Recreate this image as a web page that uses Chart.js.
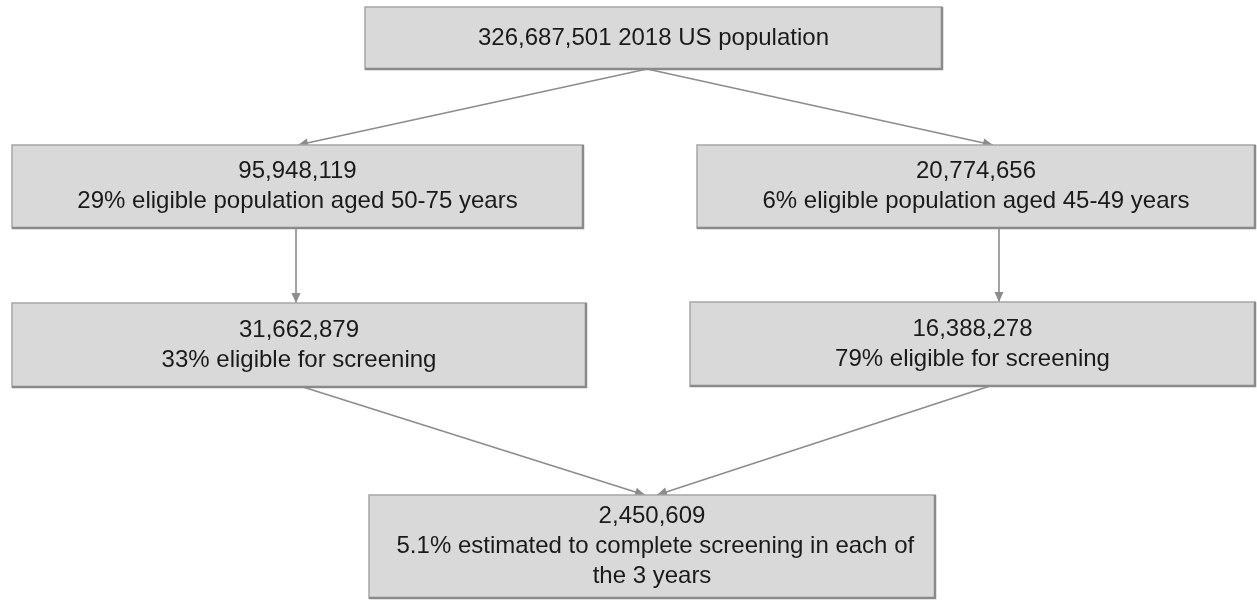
<!DOCTYPE html>
<html>
<head>
<meta charset="utf-8">
<script src="https://cdn.jsdelivr.net/npm/chart.js@4.4.1/dist/chart.umd.min.js"></script>
<style>
  html, body { margin: 0; padding: 0; background: #fff; }
  #wrap { width: 1257px; height: 603px; }
</style>
</head>
<body>
<div id="wrap"><canvas id="flow-chart" width="1257" height="603"></canvas></div>
<script>
// flow values
var counts = ['326,687,501', '95,948,119', '20,774,656', '31,662,879', '16,388,278', '2,450,609'];
var captions = [
    ['2018 US population'],
    ['29% eligible population aged 50-75 years'],
    ['6% eligible population aged 45-49 years'],
    ['33% eligible for screening'],
    ['79% eligible for screening'],
    [' 5.1% estimated to complete screening in each of', 'the 3 years']
];
var links = [[0, 1], [0, 2], [1, 3], [2, 4], [3, 5], [4, 5]];

// layout on a 1257 x 603 grid (y grows downward)
var boxLayout = [
    {x0: 365, x1: 942, y0: 7, y1: 69},
    {x0: 12, x1: 583, y0: 145, y1: 228},
    {x0: 697, x1: 1255, y0: 145, y1: 228},
    {x0: 12, x1: 586, y0: 303, y1: 387},
    {x0: 690, x1: 1255, y0: 302, y1: 386},
    {x0: 369, x1: 935, y0: 495, y1: 598}
];
var linkAnchors = [[647, 298], [647, 993], [296, 296], [999, 999], [303, 645], [990, 657]];

function boxLines(i) {
    if (i === 0) return [counts[0] + ' ' + captions[0][0]];
    return [counts[i]].concat(captions[i]);
}

var lineColor = '#8c8c8c';
var datasets = [];
for (var i = 0; i < links.length; i++) {
    var a = boxLayout[links[i][0]], b = boxLayout[links[i][1]];
    datasets.push({
        data: [{x: linkAnchors[i][0], y: a.y1}, {x: linkAnchors[i][1], y: b.y0}],
        showLine: true,
        borderColor: lineColor,
        borderWidth: 1.6,
        pointRadius: 0,
        fill: false
    });
}

var flowPlugin = {
    id: 'flowBoxes',
    afterDatasetsDraw: function(chart) {
        var ctx = chart.ctx, sx = chart.scales.x, sy = chart.scales.y;
        ctx.save();
        // arrow heads
        chart.data.datasets.forEach(function(ds) {
            var p0 = ds.data[0], p1 = ds.data[1];
            var x0 = sx.getPixelForValue(p0.x), y0 = sy.getPixelForValue(p0.y);
            var x1 = sx.getPixelForValue(p1.x), y1 = sy.getPixelForValue(p1.y);
            var ang = Math.atan2(y1 - y0, x1 - x0), len = 10, half = 4.5;
            ctx.fillStyle = lineColor;
            ctx.beginPath();
            ctx.moveTo(x1, y1);
            ctx.lineTo(x1 - len * Math.cos(ang) + half * Math.sin(ang), y1 - len * Math.sin(ang) - half * Math.cos(ang));
            ctx.lineTo(x1 - len * Math.cos(ang) - half * Math.sin(ang), y1 - len * Math.sin(ang) + half * Math.cos(ang));
            ctx.closePath();
            ctx.fill();
        });
        // boxes and text
        boxLayout.forEach(function(b, i) {
            var l = sx.getPixelForValue(b.x0), r = sx.getPixelForValue(b.x1);
            var t = sy.getPixelForValue(b.y0), btm = sy.getPixelForValue(b.y1);
            ctx.fillStyle = '#d9d9d9';
            ctx.fillRect(l, t, r - l, btm - t);
            ctx.strokeStyle = '#a6a6a6';
            ctx.lineWidth = 1.5;
            ctx.strokeRect(l, t, r - l, btm - t);
            ctx.strokeStyle = '#8a8a8a';
            ctx.lineWidth = 2.5;
            ctx.beginPath();
            ctx.moveTo(l, btm);
            ctx.lineTo(r, btm);
            ctx.lineTo(r, t);
            ctx.stroke();
            var lines = boxLines(i), lh = 30;
            var cx = (l + r) / 2, cy = (t + btm) / 2;
            ctx.fillStyle = '#1a1a1a';
            ctx.font = '24px "Liberation Sans", Arial, sans-serif';
            ctx.textAlign = 'center';
            ctx.textBaseline = 'middle';
            lines.forEach(function(txt, k) {
                ctx.fillText(txt, cx, cy + (k - (lines.length - 1) / 2) * lh);
            });
        });
        ctx.restore();
    }
};

new Chart(document.getElementById('flow-chart').getContext('2d'), {
    type: 'scatter',
    data: {datasets: datasets},
    options: {
        responsive: false,
        animation: false,
        layout: {padding: 0},
        scales: {
            x: {type: 'linear', min: 0, max: 1257, display: false},
            y: {type: 'linear', min: 0, max: 603, reverse: true, display: false}
        },
        plugins: {legend: {display: false}, tooltip: {enabled: false}}
    },
    plugins: [flowPlugin]
});
</script>
</body>
</html>
